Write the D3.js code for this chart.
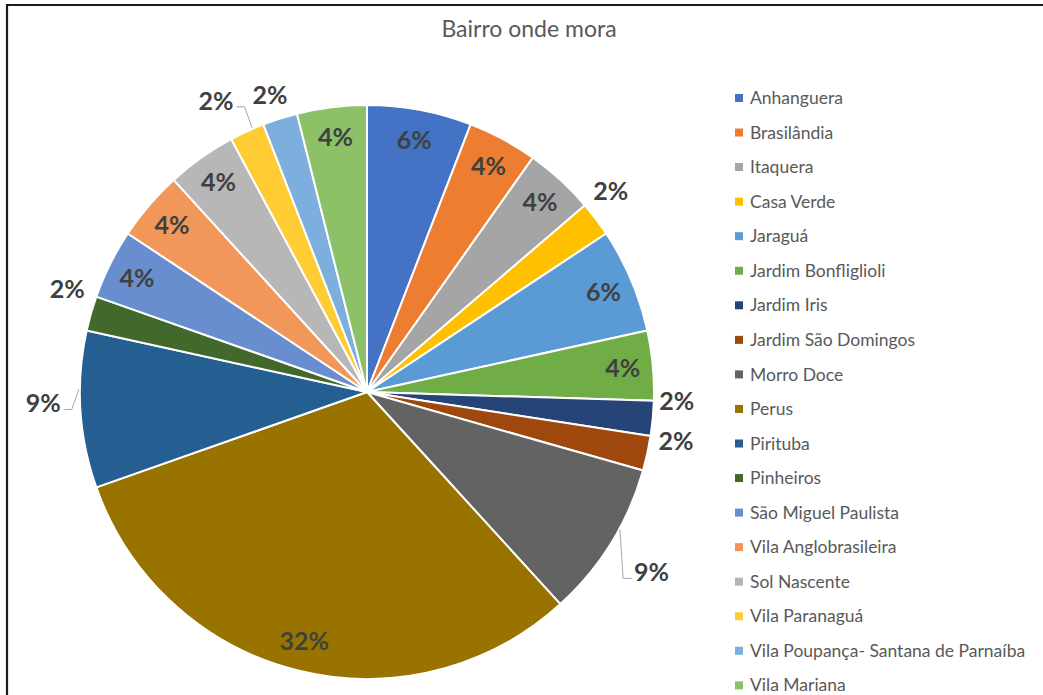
<!DOCTYPE html>
<html>
<head>
<meta charset="utf-8">
<script src="https://cdn.jsdelivr.net/npm/d3@7/dist/d3.min.js"></script>
<style>
  html, body { margin: 0; padding: 0; background: #fff; }
  svg { display: block; }
</style>
</head>
<body>
<svg id="chart" width="1043" height="695"></svg>
<script>
// Neighbourhood of residence (share of respondents, %)
const categories = [
  "Anhanguera", "Brasilândia", "Itaquera", "Casa Verde", "Jaraguá",
  "Jardim Bonfliglioli", "Jardim Iris", "Jardim São Domingos", "Morro Doce",
  "Perus", "Pirituba", "Pinheiros", "São Miguel Paulista",
  "Vila Anglobrasileira", "Sol Nascente", "Vila Paranaguá",
  "Vila Poupança- Santana de Parnaíba", "Vila Mariana"
];
const shares = [6, 4, 4, 2, 6, 4, 2, 2, 9, 32, 9, 2, 4, 4, 4, 2, 2, 4];
const colors = [
  "#4472C4", "#ED7D31", "#A5A5A5", "#FFC000", "#5B9BD5", "#70AD47",
  "#264478", "#9E480E", "#636363", "#997300", "#255E91", "#43682B",
  "#698ED0", "#F1975A", "#B7B7B7", "#FFCD33", "#7CAFDD", "#8CC168"
];
const titleText = "Bairro onde mora";

// Label layout: inside labels sit near the rim; outside ones get a radius
// factor, an angular nudge (degrees) and optionally a leader anchor offset.
const insideRadius = 0.895;
const outsideLabels = {
  3:  { r: 1.10,  dAng: -2.4 },
  6:  { r: 1.08,  dAng: -3.6 },
  7:  { r: 1.09,  dAng: -3.4 },
  8:  { r: 1.174, dAng: 0.6, leader: -3.2 },
  10: { r: 1.129, dAng: 1.5, leader: 4.1 },
  11: { r: 1.105, dAng: 3.1 },
  15: { r: 1.143, dAng: -2.7, leader: 1.2 },
  16: { r: 1.09,  dAng: -0.4 }
};

const svg = d3.select("#chart");
const W = 1043, H = 695;

// frame of the chart area
svg.append("path")
  .attr("d", `M7,${H + 5} L7,5 L${W + 5},5`)
  .attr("fill", "none")
  .attr("stroke", "#1a1a1a")
  .attr("stroke-width", 2.2);

// title
svg.append("text")
  .attr("x", 529).attr("y", 37)
  .attr("text-anchor", "middle")
  .attr("font-family", "Lato, 'Open Sans', sans-serif")
  .attr("font-size", 23)
  .attr("fill", "#595959")
  .text(titleText);

const cx = 367, cy = 392, R = 287;
const data = categories.map((c, i) => ({ name: c, value: shares[i], color: colors[i], i }));

const pie = d3.pie().value(d => d.value).sort(null);
const arcs = pie(data);
const arc = d3.arc().innerRadius(0).outerRadius(R);

const g = svg.append("g").attr("transform", `translate(${cx},${cy})`);

g.selectAll("path.slice")
  .data(arcs)
  .join("path")
  .attr("class", "slice")
  .attr("d", arc)
  .attr("fill", d => d.data.color)
  .attr("stroke", "#fff")
  .attr("stroke-width", 2)
  .attr("stroke-linejoin", "round");

function polar(angleRad, r) {
  return [r * Math.sin(angleRad), -r * Math.cos(angleRad)];
}

const toRad = Math.PI / 180;
const labelG = g.append("g");
arcs.forEach(a => {
  const i = a.data.i;
  const mid = (a.startAngle + a.endAngle) / 2;
  const o = outsideLabels[i];
  const [lx, ly] = o ? polar(mid + o.dAng * toRad, R * o.r) : polar(mid, R * insideRadius);
  const t = labelG.append("text")
    .attr("x", lx).attr("y", ly)
    .attr("dy", "0.36em")
    .attr("text-anchor", "middle")
    .attr("font-family", "Lato, 'Open Sans', sans-serif")
    .attr("font-weight", 700)
    .attr("font-size", 25)
    .attr("fill", "#404040")
    .text(a.data.value + "%");
  if (o && o.leader !== undefined) {
    const w = t.node().getComputedTextLength();
    const [ax, ay] = polar(mid + o.leader * toRad, R + 1);
    let end, elbow;
    if (lx > ax) {
      end = [lx - w / 2 - 2, ly + 6];
      elbow = [end[0] - 9, end[1]];
    } else {
      end = [lx + w / 2 + 3, ly + 6];
      elbow = [end[0] + 8, end[1]];
    }
    labelG.append("path")
      .attr("d", d3.line()([[ax, ay], elbow, end]))
      .attr("fill", "none")
      .attr("stroke", "#a6a6a6")
      .attr("stroke-width", 1);
  }
});

// legend
const legendX = 735, legendY0 = 98, legendStep = 34.55;
const leg = svg.append("g");
data.forEach((d, k) => {
  const y = legendY0 + k * legendStep;
  leg.append("rect")
    .attr("x", legendX).attr("y", y - 4)
    .attr("width", 8).attr("height", 8)
    .attr("fill", d.color);
  leg.append("text")
    .attr("x", legendX + 15).attr("y", y)
    .attr("dy", "0.35em")
    .attr("font-family", "Lato, 'Open Sans', sans-serif")
    .attr("font-size", 17.5)
    .attr("fill", "#595959")
    .text(d.name);
});
</script>
</body>
</html>
